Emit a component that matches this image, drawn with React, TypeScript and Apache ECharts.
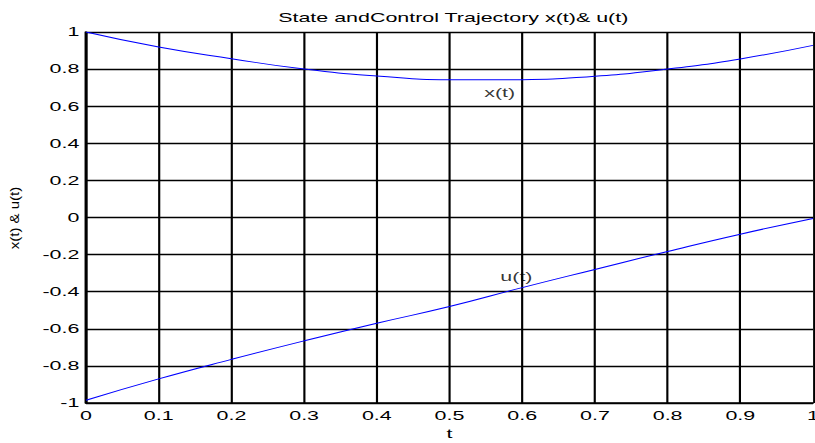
import React, { useEffect, useRef } from "react";
import * as echarts from "echarts";

const tValues = [0, 0.1, 0.2, 0.3, 0.4, 0.5, 0.6, 0.7, 0.8, 0.9, 1.0];
const xValues = [1.0, 0.919, 0.856, 0.8, 0.763, 0.742, 0.743, 0.762, 0.8, 0.855, 0.928];
const uValues = [-0.985, -0.87, -0.765, -0.665, -0.57, -0.48, -0.378, -0.28, -0.183, -0.09, -0.005];
const annotations: [number, number, string][] = [
  [0.569, 0.675, "x(t)"],
  [0.592, -0.32, "u(t)"],
];
const yAxisTitle = "x(t) & u(t)";

const font = "'Liberation Sans', Arial, sans-serif";
const W = 494;
const H = 443;
const SX = 815 / W;

export default function App() {
  const ref = useRef<HTMLDivElement>(null);
  useEffect(() => {
    if (!ref.current) return;
    const chart = echarts.init(ref.current, undefined, { renderer: "svg" });
    chart.setOption({
      animation: false,
      backgroundColor: "#ffffff",
      title: {
        text: "State andControl Trajectory x(t)& u(t)",
        left: 445 / SX,
        top: 6,
        textAlign: "center",
        textStyle: { fontFamily: font, fontSize: 13, fontWeight: "normal", color: "#000" },
      },
      graphic: [
        {
          type: "text",
          x: 15.5 / SX,
          y: 218,
          rotation: Math.PI / 2,
          scaleY: 0.8 / SX,
          style: {
            text: yAxisTitle,
            fontFamily: font,
            fontSize: 15,
            fill: "#000",
            align: "center",
            verticalAlign: "middle",
          },
        },
      ],
      grid: { left: 86 / SX, right: 2 / SX, top: 32, bottom: 40, outerBoundsMode: "none", containLabel: false, show: false },
      xAxis: {
        type: "value",
        min: 0,
        max: 1,
        interval: 0.1,
        name: "t",
        nameLocation: "middle",
        nameGap: 23,
        nameTextStyle: { fontFamily: font, fontSize: 13, color: "#000" },
        axisLine: { show: true, onZero: false, lineStyle: { color: "#000", width: 1.5 } },
        axisTick: { show: false },
        axisLabel: {
          fontFamily: font,
          fontSize: 13,
          color: "#000",
          margin: 6,
          formatter: (v: number) => String(Math.round(v * 10) / 10),
        },
        splitLine: { show: true, lineStyle: { color: "#000", width: 1.3 } },
      },
      yAxis: {
        type: "value",
        min: -1,
        max: 1,
        interval: 0.2,
        axisLine: { show: true, onZero: false, lineStyle: { color: "#000", width: 1.5 } },
        axisTick: { show: false },
        axisLabel: {
          fontFamily: font,
          fontSize: 13,
          color: "#000",
          margin: 4,
          formatter: (v: number) => String(Math.round(v * 10) / 10),
        },
        splitLine: { show: true, lineStyle: { color: "#000", width: 1.3 } },
      },
      series: [
        {
          type: "line",
          name: "x(t)",
          data: tValues.map((t, i) => [t, xValues[i]]),
          smooth: true,
          showSymbol: false,
          symbol: "none",
          lineStyle: { color: "#0000ff", width: 1 },
          z: 5,
        },
        {
          type: "line",
          name: "u(t)",
          data: tValues.map((t, i) => [t, uValues[i]]),
          smooth: true,
          showSymbol: false,
          symbol: "none",
          lineStyle: { color: "#0000ff", width: 1 },
          z: 5,
        },
        {
          type: "scatter",
          symbolSize: 0,
          data: annotations.map((a) => ({ value: [a[0], a[1]], name: a[2] })),
          label: {
            show: true,
            position: "inside",
            formatter: (p: any) => p.name,
            fontFamily: font,
            fontSize: 13,
            color: "#000",
          },
          z: 6,
        },
      ],
    });
    return () => chart.dispose();
  }, []);
  return (
    <div style={{ position: "absolute", left: 0, top: 0, width: 815, height: H, overflow: "hidden", background: "#fff" }}>
      <div
        ref={ref}
        style={{ width: W, height: H, transform: `scaleX(${SX})`, transformOrigin: "0 0" }}
      />
    </div>
  );
}
